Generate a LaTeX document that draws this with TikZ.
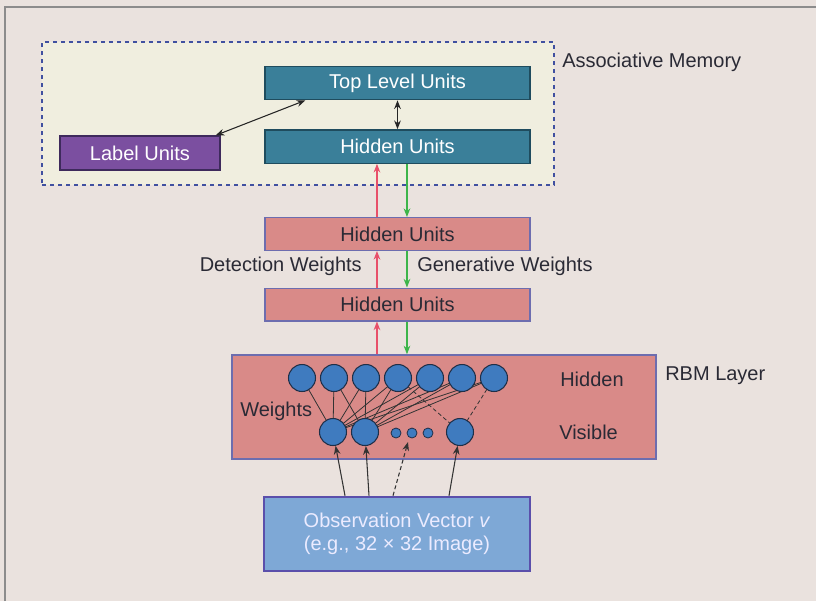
\documentclass[tikz,border=0pt]{standalone}
\usepackage{fontspec}
\setmainfont{Liberation Sans}
\usetikzlibrary{arrows.meta,calc}

\definecolor{bgc}{HTML}{EAE2DE}
\definecolor{frame}{HTML}{8C8C8C}
\definecolor{memfill}{HTML}{F0EEDF}
\definecolor{memline}{HTML}{4050A0}
\definecolor{teal}{HTML}{3A7F99}
\definecolor{tealdark}{HTML}{1F4C5E}
\definecolor{purp}{HTML}{7B4FA0}
\definecolor{purpdark}{HTML}{3E2A5C}
\definecolor{pink}{HTML}{D98A88}
\definecolor{pinkline}{HTML}{6D6DAF}
\definecolor{unit}{HTML}{3F7BBF}
\definecolor{unitline}{HTML}{1F2F48}
\definecolor{obsfill}{HTML}{7EA8D6}
\definecolor{obsline}{HTML}{5B4FAB}
\definecolor{txt}{HTML}{2A2A35}
\definecolor{up}{HTML}{E8506A}
\definecolor{down}{HTML}{3DB54A}

\begin{document}
\begin{tikzpicture}[x=0.75pt,y=-0.75pt,
  font=\fontsize{15}{18}\selectfont,
  every node/.style={text=txt},
  lbl/.style={inner sep=0pt},
  tealbox/.style={draw=tealdark,line width=1pt,fill=teal,text=white,
    minimum width=198.75pt,minimum height=25pt,inner sep=0pt},
  pinkbox/.style={draw=pinkline,line width=1.1pt,fill=pink,
    minimum width=198.75pt,minimum height=24.4pt,inner sep=0pt},
  unitc/.style={circle,draw=unitline,line width=0.8pt,fill=unit,
    minimum size=20.25pt,inner sep=0pt},
  dotc/.style={circle,draw=unitline,line width=0.6pt,fill=unit,
    minimum size=7.5pt,inner sep=0pt},
  wline/.style={draw=black!80,line width=0.6pt},
  tip/.style={-{Stealth[length=6.5pt,width=5pt]}},
  both/.style={{Stealth[length=6.5pt,width=5pt]}-{Stealth[length=6.5pt,width=5pt]},
    draw=black!85,line width=0.8pt},
  uparr/.style={tip,draw=up,fill=up,line width=0.9pt},
  downarr/.style={tip,draw=down,fill=down,line width=0.9pt},
  feed/.style={tip,draw=black!80,line width=0.8pt}]

% canvas and frame
\fill[bgc] (0,0) rectangle (816,601);
\useasboundingbox (0,0) rectangle (816,601);
\draw[frame,line width=1.2pt] (5,601) -- (5,7) -- (816,7);

% associative memory
\node[draw=memline,dashed,line width=1pt,fill=memfill,
  minimum width=384pt,minimum height=107.25pt,inner sep=0pt] (mem) at (298,113.5) {};
\node[lbl,anchor=west] (memlbl) at (562,62) {Associative Memory};
\node[tealbox] (top) at (397.5,83) {Top Level Units};
\node[tealbox] (th) at (397.5,146.5) {Hidden Units};
\node[draw=purpdark,line width=1pt,fill=purp,text=white,
  minimum width=120pt,minimum height=25.5pt,inner sep=0pt] (lab) at (140,153) {Label Units};
\draw[both] ([xshift=-3.75pt]lab.north east) -- ([xshift=30.75pt]top.south west);
\draw[both] (top.south) -- (th.north);

% stacked hidden layers
\node[pinkbox] (ph1) at (397.5,234) {Hidden Units};
\node[pinkbox] (ph2) at (397.5,304.5) {Hidden Units};
\node[lbl,anchor=east] (det) at (362,266) {Detection Weights};
\node[lbl,anchor=west] (gen) at (417,266) {Generative Weights};

% RBM layer
\node[draw=pinkline,line width=1.1pt,fill=pink,
  minimum width=318pt,minimum height=78pt,inner sep=0pt] (rbm) at (444,407) {};
\node[lbl,anchor=west] (rbmlbl) at (665,376) {RBM Layer};
\node[lbl,anchor=west] (hidlbl) at (560,379) {Hidden};
\node[lbl,anchor=west] (vislbl) at (559,432) {Visible};
\node[lbl,anchor=west] (wlbl) at (240,411) {Weights};

% up (red) and down (green) passes between layers
\draw[uparr] ([xshift=-15.4pt]ph1.north) -- ([xshift=-15.4pt]th.south);
\draw[downarr] ([xshift=7.1pt]th.south) -- ([xshift=7.1pt]ph1.north);
\draw[uparr] ([xshift=-15.4pt]ph2.north) -- ([xshift=-15.4pt]ph1.south);
\draw[downarr] ([xshift=7.1pt]ph1.south) -- ([xshift=7.1pt]ph2.north);
\draw[uparr] ([xshift=-15.4pt]rbm.north -| ph2.south) -- ([xshift=-15.4pt]ph2.south);
\draw[downarr] ([xshift=7.1pt]ph2.south) -- ([xshift=7.1pt]rbm.north -| ph2.south);

% weights between hidden and visible units
\foreach \i/\x in {1/302,2/334,3/366,4/398,5/430,6/462,7/494}
  \coordinate (hc\i) at (\x,378);
\coordinate (vc1) at (333,432);
\coordinate (vc2) at (365,432);
\coordinate (vc4) at (460,432);
\foreach \h/\v in {1/1,2/1,2/2,3/1,3/2,4/1,4/2,5/1,5/2,6/1,6/2,7/1,7/2}
  \draw[wline] (hc\h) -- (vc\v);
\draw[wline,dashed,dash pattern=on 3pt off 2pt] (hc4) -- (vc4);
\draw[wline,dashed,dash pattern=on 3pt off 2pt] (hc7) -- (vc4);

% hidden and visible units
\foreach \i in {1,...,7}
  \node[unitc] (h\i) at (hc\i) {};
\node[unitc] (v1) at (vc1) {};
\node[unitc] (v2) at (vc2) {};
\node[unitc] (v4) at (vc4) {};
\node[dotc] (d1) at (396,433) {};
\node[dotc] (d2) at (412,433) {};
\node[dotc] (d3) at (428,433) {};
\coordinate (dd) at (408,442);

% observation vector
\node[draw=obsline,line width=2pt,fill=obsfill,text=white!92!blue,
  minimum width=199.5pt,minimum height=55.5pt,inner sep=0pt,align=center]
  (obs) at (397,534) {Observation Vector \textit{v}\\[-1pt](e.g., 32 × 32 Image)};
\draw[feed] ([xshift=-39pt]obs.north) -- (v1);
\draw[feed] ([xshift=-21pt]obs.north) -- (v2);
\draw[feed,dashed,dash pattern=on 3pt off 2pt] ([xshift=-3pt]obs.north) -- (dd);
\draw[feed] ([xshift=39pt]obs.north) -- (v4);
\end{tikzpicture}
\end{document}
